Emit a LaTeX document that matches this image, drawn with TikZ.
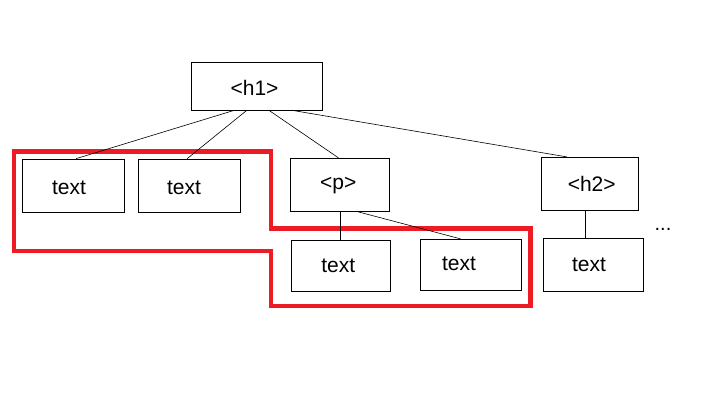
\documentclass[tikz,border=0pt]{standalone}
\usepackage{fontspec}
\setmainfont{Liberation Sans}
\usetikzlibrary{calc}
\definecolor{mred}{RGB}{237,28,36}
\begin{document}
\begin{tikzpicture}[x=1pt,y=-1pt,
  box/.style={draw=black,line width=0.9pt,inner sep=0pt,rectangle,fill=white},
  lbl/.style={font=\fontsize{21}{24}\selectfont},
  conn/.style={draw=black,line width=0.6pt},
  region/.style={draw=mred,line width=4.5pt,line join=miter}]
\useasboundingbox[fill=white] (0,0) rectangle (703,410);
% red region
\draw[region] (13.8,151.3) -- (271,151.3) -- (271,228.7) -- (530.5,228.7) -- (530.5,306) -- (271,306) -- (271,251) -- (13.8,251) -- cycle;
% boxes
\node[box,minimum width=131pt,minimum height=48pt,label={[lbl,xshift=-2.3pt,yshift=-1.5pt]center:<h1>}] (h1) at (256.8,86.3) {};
\node[box,minimum width=102pt,minimum height=53.3pt,label={[lbl,xshift=-4.3pt,yshift=-2pt]center:text}] (t1) at (73.3,185.7) {};
\node[box,minimum width=102pt,minimum height=53.3pt,label={[lbl,xshift=-5.3pt,yshift=-2pt]center:text}] (t2) at (189.3,185.7) {};
\node[box,minimum width=99pt,minimum height=52.7pt,label={[lbl,xshift=-1.5pt,yshift=-0.5pt]center:<p>}] (p) at (339.8,184.7) {};
\node[box,minimum width=97pt,minimum height=52.7pt,label={[lbl,xshift=1.9pt,yshift=-0.5pt]center:<h2>}] (h2) at (589.8,183.7) {};
\node[box,minimum width=99pt,minimum height=51pt,label={[lbl,xshift=-2.5pt,yshift=-0.5pt]center:text}] (t3) at (340.8,265.8) {};
\node[box,minimum width=101pt,minimum height=51pt,label={[lbl,xshift=-11.8pt,yshift=0.5pt]center:text}] (t4) at (470.8,264.8) {};
\node[box,minimum width=100pt,minimum height=53pt,label={[lbl,xshift=-4.3pt,yshift=-0.5pt]center:text}] (t5) at (593.3,264.8) {};
\node[font=\fontsize{20}{24}\selectfont,anchor=base] (dots) at (663,230.5) {...};
% connectors
\draw[conn] ([xshift=42pt]h1.south west) -- ([xshift=54.4pt]t1.north west);
\draw[conn] ([xshift=55.4pt]h1.south west) -- ([xshift=49.4pt]t2.north west);
\draw[conn] ([xshift=78.7pt]h1.south west) -- ([xshift=48.7pt]p.north west);
\draw[conn] ([xshift=103.7pt]h1.south west) -- ([xshift=26pt]h2.north west);
\draw[conn] ([xshift=50pt]p.south west) -- ([xshift=49pt]t3.north west);
\draw[conn] ([xshift=67pt]p.south west) -- ([xshift=40.7pt]t4.north west);
\draw[conn] ([xshift=44.7pt]h2.south west) -- ([xshift=42.7pt]t5.north west);
\end{tikzpicture}
\end{document}
